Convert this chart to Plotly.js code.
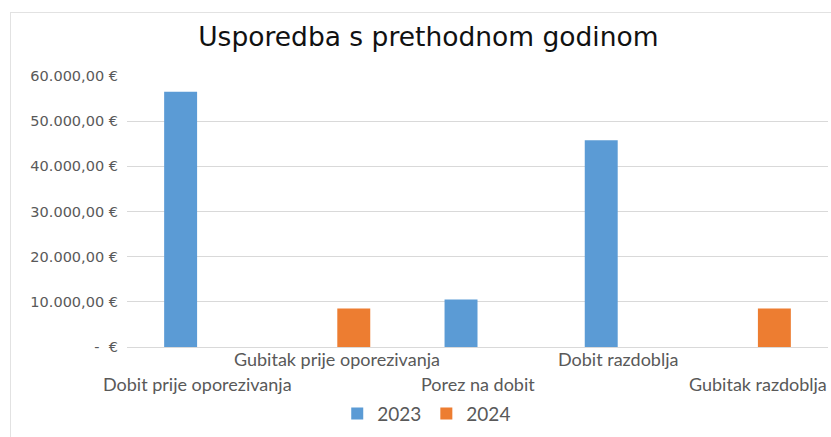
<!DOCTYPE html>
<html>
<head>
<meta charset="utf-8">
<script src="https://cdn.plot.ly/plotly-3.0.1.min.js"></script>
<style>
html,body{margin:0;padding:0;background:#fff;width:831px;height:437px;overflow:hidden;}
#frame{position:absolute;left:10px;top:12px;width:830px;height:430px;border-left:1px solid #e2e2e2;border-top:1px solid #e2e2e2;}
#chart{width:820px;height:424px;}
</style>
</head>
<body>
<div id="frame"><div id="chart"></div></div>
<script>
const categories = ["Dobit prije oporezivanja", "Gubitak prije oporezivanja", "Porez na dobit", "Dobit razdoblja", "Gubitak razdoblja"];
const values2023 = [56500, 0, 10500, 45800, 0];
const values2024 = [0, 8500, 0, 0, 8500];
const seriesNames = ["2023", "2024"];
const yTickVals = [0, 10000, 20000, 30000, 40000, 50000, 60000];
const yTickText = ["-  €", "10.000,00 €", "20.000,00 €", "30.000,00 €", "40.000,00 €", "50.000,00 €", "60.000,00 €"];
const labelRow = [1, 0, 1, 0, 1];

const traces = [
  {type:'bar', name:seriesNames[0], x:categories, y:values2023, marker:{color:'#5b9bd5'}, hoverinfo:'y'},
  {type:'bar', name:seriesNames[1], x:categories, y:values2024, marker:{color:'#ed7d31'}, hoverinfo:'y'}
];

const annotations = categories.map((c,i)=>({
  x:c, xref:'x', y:0, yref:'paper', yanchor:'middle', xanchor:'center',
  yshift: labelRow[i] ? -37 : -12,
  text:c, showarrow:false,
  font:{family:'Lato, sans-serif', size:18, color:'#595959'}
}));

const layout = {
  width:820, height:424,
  margin:{l:116, r:3, t:63, b:90},
  paper_bgcolor:'#fff', plot_bgcolor:'#fff',
  title:{text:'Usporedba s prethodnom godinom', x:0.509, xref:'container', xanchor:'center', y:0.945, yref:'container', yanchor:'middle',
         font:{family:'DejaVu Sans, sans-serif', size:26.5, color:'#111'}},
  barmode:'group', bargap:0.53, bargroupgap:0,
  xaxis:{type:'category', range:[-0.5, 4.5], autorange:false, automargin:false, showticklabels:false, ticks:'', showgrid:false, showline:true, linecolor:'#d9d9d9', linewidth:1, fixedrange:true},
  yaxis:{range:[0,60000], autorange:false, automargin:false, tickvals:yTickVals, ticktext:yTickText, showgrid:true, gridcolor:'#d9d9d9', gridwidth:1,
         zeroline:false, showline:false, ticks:'', ticklabelstandoff:8,
         tickfont:{family:'DejaVu Sans, sans-serif', size:14.5, color:'#595959'}, fixedrange:true},
  legend:{orientation:'h', x:0.507, xref:'container', xanchor:'center', y:0.055, yref:'container', yanchor:'middle',
          font:{family:'Lato, sans-serif', size:19, color:'#595959'}, itemwidth:30},
  annotations:annotations,
  showlegend:true
};

Plotly.newPlot('chart', traces, layout, {displayModeBar:false, staticPlot:true});
</script>
</body>
</html>
